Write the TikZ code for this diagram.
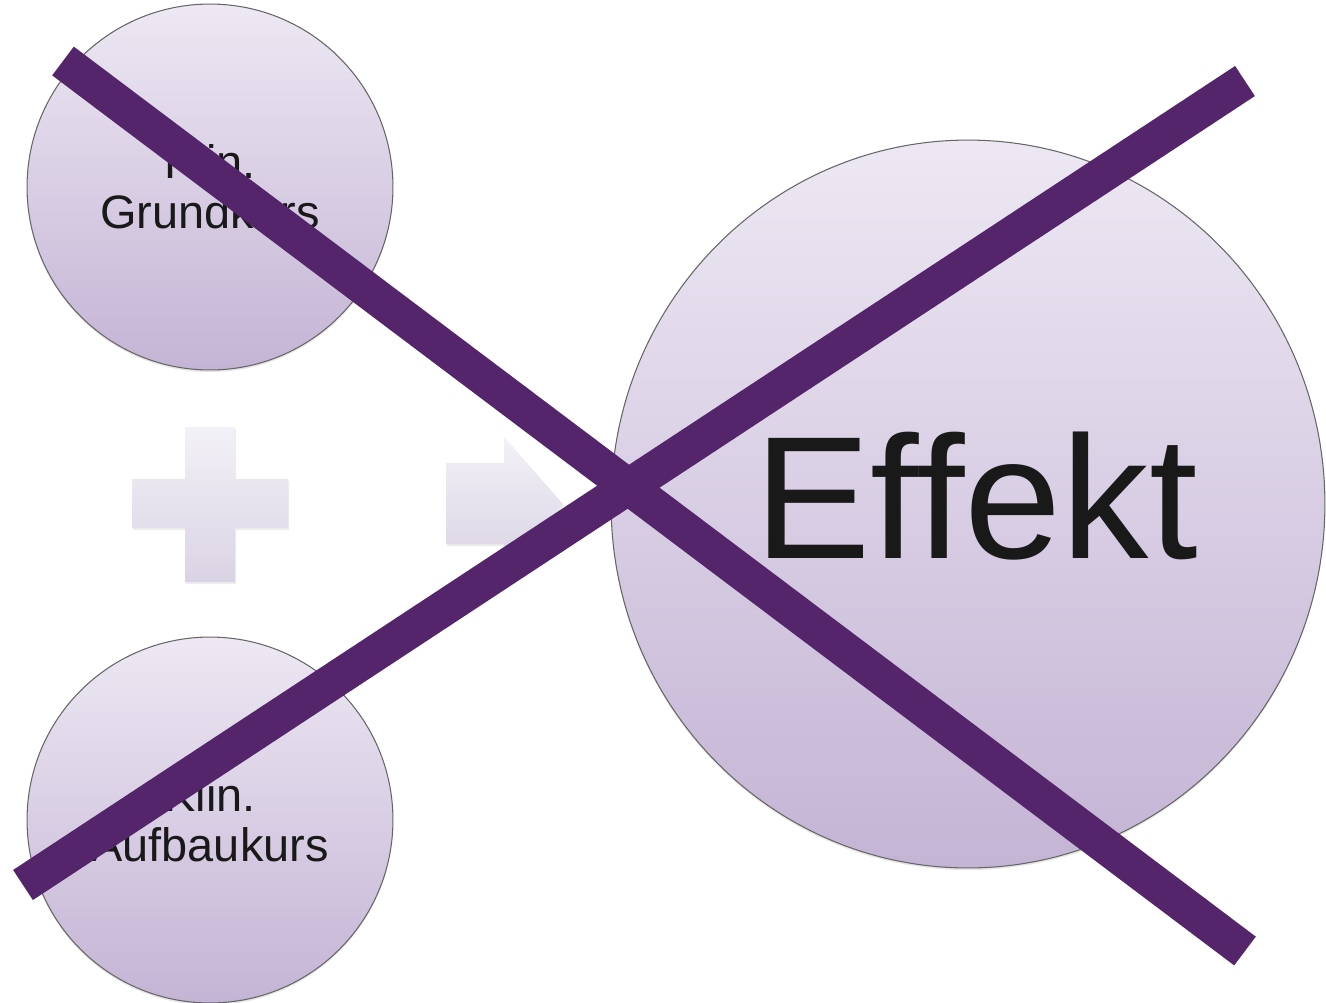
\documentclass[tikz,border=0pt]{standalone}
\usepackage{fontspec}
\setmainfont{Liberation Sans}
\usepackage{xcolor}
\usetikzlibrary{shapes,shadows,calc}

\definecolor{circtop}{RGB}{237,232,243}
\definecolor{circbot}{RGB}{196,180,213}
\definecolor{symtop}{RGB}{243,241,247}
\definecolor{symbot}{RGB}{218,211,228}
\definecolor{crossline}{RGB}{85,37,108}

\tikzset{
    circ/.style={draw=black!60, line width=0.6pt, circle, inner sep=0pt, minimum size=7.32cm,
        top color=circtop, bottom color=circbot, align=center,
        font=\fontsize{26.7}{28.5}\selectfont, text=black!90,
        drop shadow={opacity=0.2, shadow xshift=0pt, shadow yshift=-1.2pt}},
    sym/.style={top color=symtop, bottom color=symbot,
        drop shadow={opacity=0.15, shadow xshift=0.6pt, shadow yshift=-1.2pt}},
    cross/.style={draw=crossline, line width=0.72cm,
        preaction={draw=black, opacity=0.12, transform canvas={xshift=0.5pt,yshift=-1.2pt}}}}

\begin{document}
\begin{tikzpicture}[x=0.02cm,y=-0.02cm]
\tikzstyle{big}=[circ, ellipse, minimum width=14.28cm, minimum height=14.56cm]
    \useasboundingbox (0,0) rectangle (1326,1002);

    % circles
    \node (G)[circ] at (210,187) {Klin.\\Grundkurs};
    \node (A)[circ] at (210,820) {Klin.\\Aufbaukurs};
    \node (E)[big] at (968,504) {};
    \node (T)[font=\fontsize{99.4}{100}\selectfont, text=black!90, inner sep=0pt] at ($(E)+(8,-8)$) {Effekt};

    % plus and arrow
    \path[sym] (185,427) -- (235,427) -- (235,479) -- (288,479) -- (288,528) -- (235,528)
        -- (235,582) -- (185,582) -- (185,528) -- (132,528) -- (132,479) -- (185,479) -- cycle;
    \path[sym] (446,463) -- (504,463) -- (504,437) -- (563,504) -- (504,571) -- (504,544)
        -- (446,544) -- cycle;

    % the cross
    \coordinate (P1) at (63,61);
    \coordinate (P2) at (1245,951);
    \coordinate (Q1) at (23,885);
    \coordinate (Q2) at (1245,81);
    \draw[cross] (P1) -- (P2);
    \draw[cross] (Q1) -- (Q2);
\end{tikzpicture}
\end{document}
